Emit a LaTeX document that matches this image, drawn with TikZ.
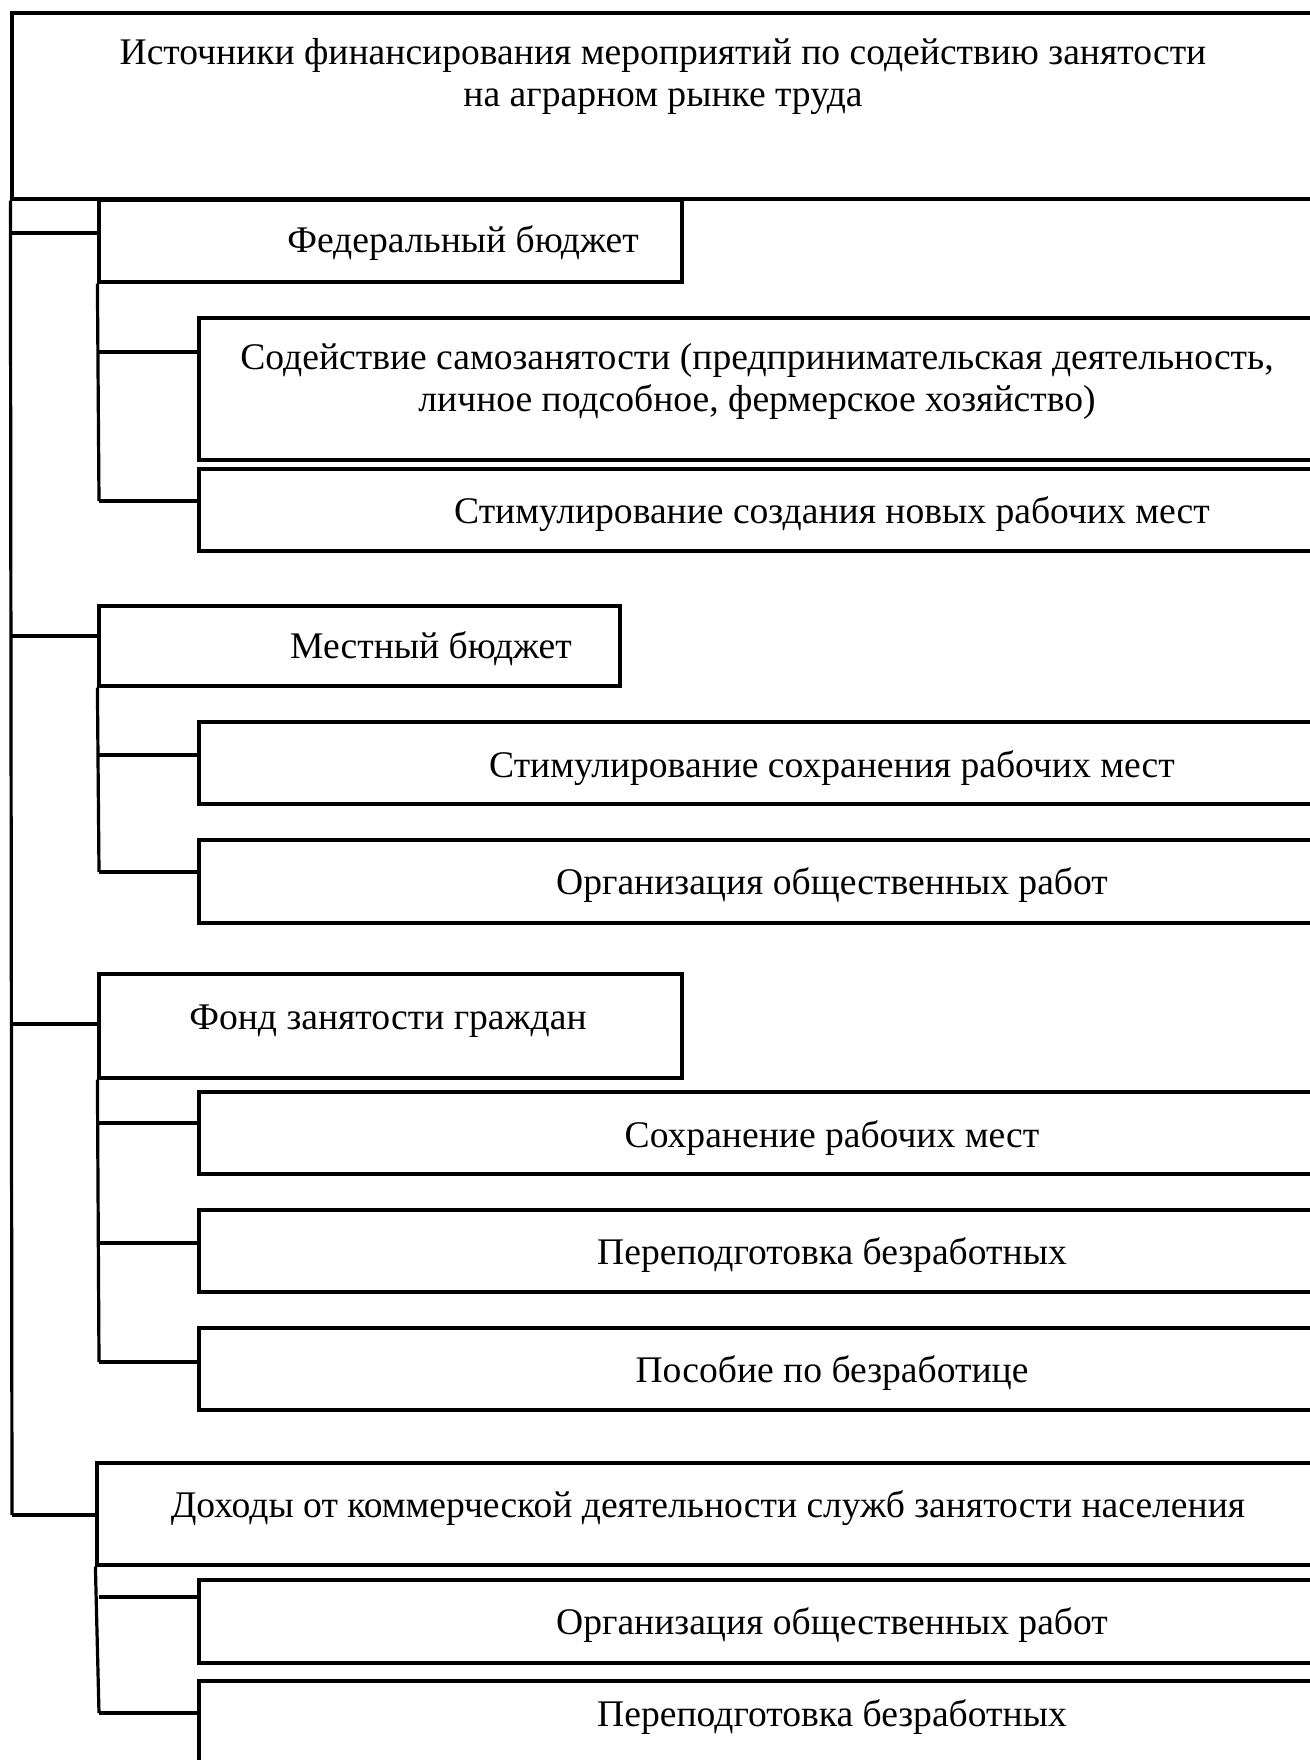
\documentclass[tikz,border=0pt]{standalone}
\usepackage{fontspec}
\setmainfont{Liberation Serif}
\usetikzlibrary{fit}
\begin{document}
\begin{tikzpicture}[x=0.5pt,y=-0.5pt,line width=1.6pt,
  box/.style={draw,rectangle,inner sep=0pt},
  lbl/.style={font=\fontsize{18.8}{20.8}\selectfont,inner sep=0pt,anchor=base},
  link/.style={draw,line width=1.6pt}]
\clip (0,0) rectangle (1310,1760);
% boxes
\node[box,fit={(12,13) (1400,199)}] (top) {};
\node[box,fit={(99,200) (682,282)}] (fed) {};
\node[box,fit={(199,318) (1400,460)}] (s1) {};
\node[box,fit={(199,469) (1400,551)}] (s2) {};
\node[box,fit={(99,606) (620,686)}] (loc) {};
\node[box,fit={(199,722) (1400,804)}] (s3) {};
\node[box,fit={(199,840) (1400,923)}] (s4) {};
\node[box,fit={(99,974) (682,1078)}] (fund) {};
\node[box,fit={(199,1092) (1400,1174)}] (s5) {};
\node[box,fit={(199,1210) (1400,1292)}] (s6) {};
\node[box,fit={(199,1328) (1400,1410)}] (s7) {};
\node[box,fit={(97,1463) (1400,1565)}] (inc) {};
\node[box,fit={(199,1580) (1400,1663)}] (s8) {};
\node[box,fit={(199,1681) (1400,1900)}] (s9) {};
% texts
\node[lbl,align=center,anchor=north] (ttitle) at (663,37) {Источники финансирования мероприятий по содействию занятости\\на аграрном рынке труда};
\node[lbl] (tfed) at (463,253) {Федеральный бюджет};
\node[lbl,align=center,anchor=north] (ts1) at (757,342) {Содействие самозанятости (предпринимательская деятельность,\\личное подсобное, фермерское хозяйство)};
\node[lbl] (ts2) at (832,523) {Стимулирование создания новых рабочих мест};
\node[lbl] (tloc) at (431,658) {Местный бюджет};
\node[lbl] (ts3) at (832,777) {Стимулирование сохранения рабочих мест};
\node[lbl] (ts4) at (832,894) {Организация общественных работ};
\node[lbl] (tfund) at (388,1029) {Фонд занятости граждан};
\node[lbl] (ts5) at (832,1147) {Сохранение рабочих мест};
\node[lbl] (ts6) at (832,1264) {Переподготовка безработных};
\node[lbl] (ts7) at (832,1382) {Пособие по безработице};
\node[lbl] (tinc) at (708,1517) {Доходы от коммерческой деятельности служб занятости населения};
\node[lbl] (ts8) at (832,1634) {Организация общественных работ};
\node[lbl] (ts9) at (832,1726) {Переподготовка безработных};
% spine coordinates
\coordinate (m1) at (12,233);
\coordinate (m2) at (12,636);
\coordinate (m3) at (12,1024);
\coordinate (m4) at (12,1515);
\coordinate (f1) at (99,352);
\coordinate (f2) at (99,501);
\coordinate (l1) at (99,755);
\coordinate (l2) at (99,872);
\coordinate (u1) at (99,1123);
\coordinate (u2) at (99,1243);
\coordinate (u3) at (99,1362);
\coordinate (i1) at (99,1597);
\coordinate (i2) at (99,1713);
% main spine
\draw[link] (top.south west) -- (m4);
\draw[link] (m1) -- (m1 -| fed.west);
\draw[link] (m2) -- (m2 -| loc.west);
\draw[link] (m3) -- (m3 -| fund.west);
\draw[link] (m4) -- (m4 -| inc.west);
% sub spines
\draw[link] (fed.south west) -- (f2);
\draw[link] (f1) -- (f1 -| s1.west);
\draw[link] (f2) -- (f2 -| s2.west);
\draw[link] (loc.south west) -- (l2);
\draw[link] (l1) -- (l1 -| s3.west);
\draw[link] (l2) -- (l2 -| s4.west);
\draw[link] (fund.south west) -- (u3);
\draw[link] (u1) -- (u1 -| s5.west);
\draw[link] (u2) -- (u2 -| s6.west);
\draw[link] (u3) -- (u3 -| s7.west);
\draw[link] (inc.south west) -- (i2);
\draw[link] (i1) -- (i1 -| s8.west);
\draw[link] (i2) -- (i2 -| s9.west);
\end{tikzpicture}
\end{document}
